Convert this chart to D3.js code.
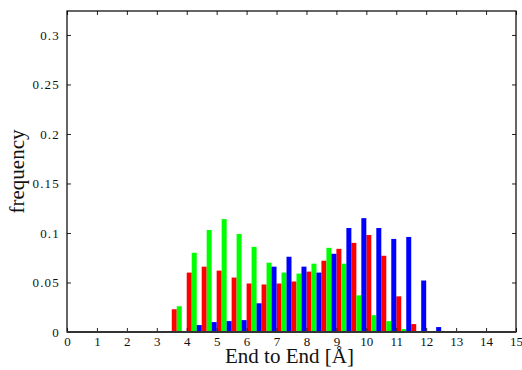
<!DOCTYPE html>
<html>
<head>
<meta charset="utf-8">
<script src="https://cdn.jsdelivr.net/npm/d3@7"></script>
<style>
  html, body { margin: 0; padding: 0; background: #fff; }
  svg { display: block; }
  svg text { font-family: "Liberation Serif", "DejaVu Serif", serif; fill: #111; }
</style>
</head>
<body>
<script>
// Histogram bins (left edge, Å), bin width 0.5
const binStarts = [0,0.5,1,1.5,2,2.5,3,3.5,4,4.5,5,5.5,6,6.5,7,7.5,8,8.5,9,9.5,10,10.5,11,11.5,12,12.5,13,13.5,14,14.5];
const binWidth = 0.5;

// Frequencies of the three distributions per bin
const redValues   = [0,0,0,0,0,0,0.001,0.023,0.060,0.066,0.062,0.055,0.049,0.048,0.049,0.051,0.061,0.072,0.084,0.090,0.098,0.077,0.036,0.008,0.001,0.0005,0,0,0,0];
const greenValues = [0,0,0,0,0,0,0.001,0.026,0.080,0.103,0.114,0.099,0.086,0.070,0.060,0.059,0.069,0.085,0.069,0.037,0.017,0.011,0.003,0.001,0,0,0,0,0,0];
const blueValues  = [0,0,0,0,0,0,0,0.001,0.007,0.010,0.011,0.012,0.029,0.066,0.076,0.066,0.060,0.079,0.105,0.115,0.105,0.094,0.096,0.052,0.005,0.0005,0,0,0,0];

const seriesNames = ["red", "green", "blue"];
const seriesColors = ["#ff0000", "#00ff00", "#0000ff"];

const xTicks = [0,1,2,3,4,5,6,7,8,9,10,11,12,13,14,15];
const yTicks = [0,0.05,0.1,0.15,0.2,0.25,0.3];
const yTickLabels = ["0","0.05","0.1","0.15","0.2","0.25","0.3"];

const W = 522, H = 370;
const plotLeft = 67, plotRight = 516, plotTop = 11, plotBottom = 332;
const serif = "'Liberation Serif', 'DejaVu Serif', serif";

const svg = d3.select("body").append("svg")
  .attr("width", W).attr("height", H)
  .attr("font-family", serif);
svg.append("rect").attr("width", W).attr("height", H).attr("fill", "#fff");

const x = d3.scaleLinear().domain([0, 15]).range([plotLeft, plotRight]);
const y = d3.scaleLinear().domain([0, 0.3242]).range([plotBottom, plotTop]);

// Bars: three side-by-side bars per bin
const allSeries = [redValues, greenValues, blueValues];
const sub = binWidth / allSeries.length;
allSeries.forEach((vals, si) => {
  svg.append("g").attr("class", "series-" + seriesNames[si])
    .selectAll("rect")
    .data(binStarts.map((b, i) => ({ b, v: vals[i] })).filter(d => d.v > 0))
    .join("rect")
    .attr("x", d => x(d.b + si * sub))
    .attr("width", d => x(d.b + (si + 1) * sub) - x(d.b + si * sub))
    .attr("y", d => y(d.v))
    .attr("height", d => y(0) - y(d.v))
    .attr("fill", seriesColors[si]);
});

// Axes with inward ticks on all four sides
const tickLen = 4;
const axBottom = d3.axisBottom(x).tickValues(xTicks).tickSize(-tickLen).tickPadding(5)
  .tickFormat(d3.format("d"));
const gB = svg.append("g").attr("transform", `translate(0,${plotBottom})`).call(axBottom);
const axTop = d3.axisTop(x).tickValues(xTicks).tickSize(-tickLen).tickFormat("");
const gT = svg.append("g").attr("transform", `translate(0,${plotTop})`).call(axTop);
const axLeft = d3.axisLeft(y).tickValues(yTicks).tickSize(-tickLen).tickPadding(7)
  .tickFormat((d, i) => yTickLabels[i]);
const gL = svg.append("g").attr("transform", `translate(${plotLeft},0)`).call(axLeft);
const axRight = d3.axisRight(y).tickValues(yTicks).tickSize(-tickLen).tickFormat("");
const gR = svg.append("g").attr("transform", `translate(${plotRight},0)`).call(axRight);

[gB, gT, gL, gR].forEach(g => {
  g.attr("font-family", serif).attr("font-size", 13);
  g.select(".domain").remove();
  g.selectAll(".tick line").attr("stroke", "#222").attr("stroke-width", 1);
  g.selectAll("text").attr("fill", "#111");
});
gL.selectAll("text").attr("letter-spacing", 1.2);

// Frame
svg.append("rect")
  .attr("x", plotLeft).attr("y", plotTop)
  .attr("width", plotRight - plotLeft).attr("height", plotBottom - plotTop)
  .attr("fill", "none").attr("stroke", "#000").attr("stroke-width", 1.2);
svg.append("line")
  .attr("x1", plotLeft).attr("x2", plotRight).attr("y1", plotBottom).attr("y2", plotBottom)
  .attr("stroke", "#333").attr("stroke-width", 2);

// Axis titles
svg.append("text")
  .attr("x", (plotLeft + plotRight) / 2 - 2).attr("y", 363)
  .attr("text-anchor", "middle").attr("font-size", 21)
  .text("End to End [Å]");
svg.append("text")
  .attr("transform", `translate(24,${(plotTop + plotBottom) / 2}) rotate(-90)`)
  .attr("text-anchor", "middle").attr("font-size", 21)
  .text("frequency");
</script>
</body>
</html>
